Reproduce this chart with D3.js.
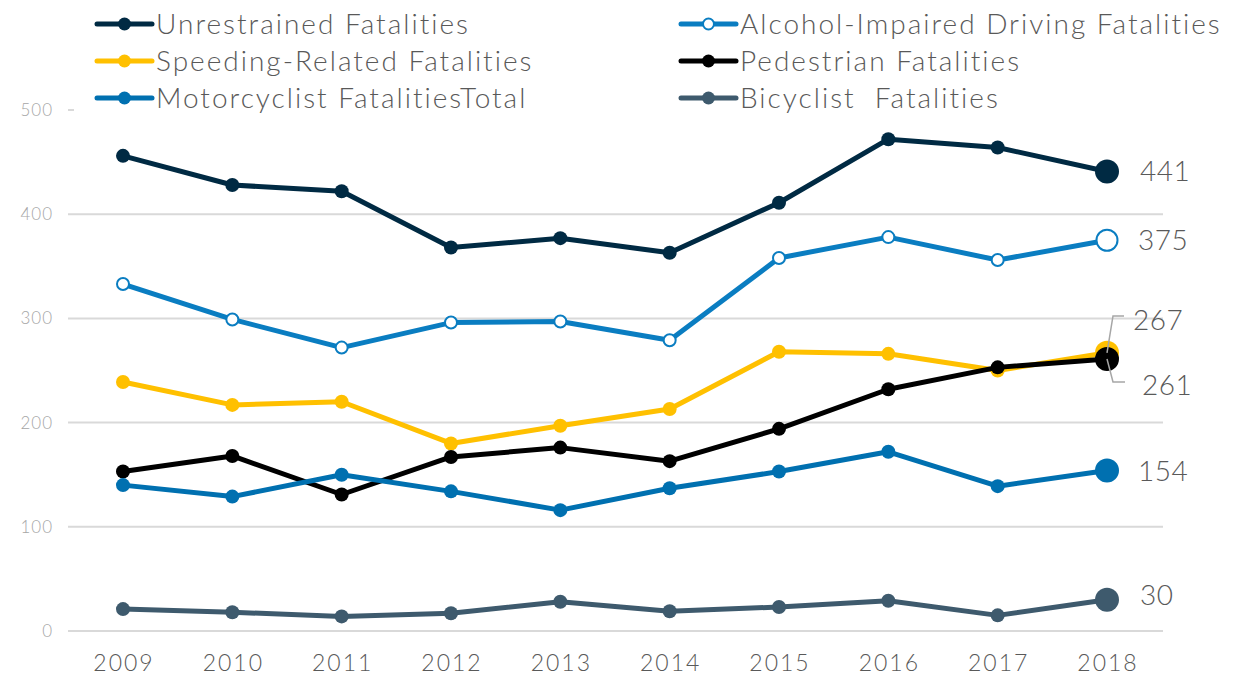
<!DOCTYPE html>
<html>
<head>
<meta charset="utf-8">
<script src="https://cdn.jsdelivr.net/npm/d3@7"></script>
<style>
  body { margin:0; background:#fff; }
  svg text { font-family: Lato, "Open Sans", sans-serif; font-weight:300; white-space:pre; }
</style>
</head>
<body>
<svg id="chart" width="1234" height="675"></svg>
<script>
var years = [2009, 2010, 2011, 2012, 2013, 2014, 2015, 2016, 2017, 2018];
var yTicks = [0, 100, 200, 300, 400, 500];

var unrestrained = [456, 428, 422, 368, 377, 363, 411, 472, 464, 441];
var alcohol      = [333, 299, 272, 296, 297, 279, 358, 378, 356, 375];
var speeding     = [239, 217, 220, 180, 197, 213, 268, 266, 250, 267];
var pedestrian   = [153, 168, 131, 167, 176, 163, 194, 232, 253, 261];
var motorcycle   = [140, 129, 150, 134, 116, 137, 153, 172, 139, 154];
var bicycle      = [21, 18, 14, 17, 28, 19, 23, 29, 15, 30];

var seriesNames = ["Unrestrained Fatalities", "Alcohol-Impaired Driving Fatalities",
  "Speeding-Related Fatalities", "Pedestrian Fatalities",
  "Motorcyclist FatalitiesTotal", "Bicyclist  Fatalities"];
var seriesColors = ["#002a43", "#0a7dc1", "#ffc000", "#000000", "#0070b0", "#3e5a6d"];
var seriesData = [unrestrained, alcohol, speeding, pedestrian, motorcycle, bicycle];
var hollow = [false, true, false, false, false, false];

var svg = d3.select("#chart");

var x = d3.scalePoint().domain(years).range([123, 1107]);
var y = d3.scaleLinear().domain([0, 500]).range([631, 110]);

/* gridlines */
svg.append("g").selectAll("line").data(yTicks).enter().append("line")
  .attr("x1", 68).attr("x2", 1163)
  .attr("y1", function(d) { return y(d); }).attr("y2", function(d) { return y(d); })
  .attr("stroke", "#d9d9d9").attr("stroke-width", 2);

/* y labels */
svg.append("g").selectAll("text").data(yTicks).enter().append("text")
  .attr("x", 53).attr("y", function(d) { return y(d) + 6; })
  .attr("text-anchor", "end").attr("font-size", 17).attr("fill", "#a6a6a6")
  .attr("letter-spacing", 1)
  .text(function(d) { return d; });

/* x labels */
svg.append("g").selectAll("text").data(years).enter().append("text")
  .attr("x", function(d) { return x(d) + 1; }).attr("y", 671)
  .attr("text-anchor", "middle").attr("font-size", 23).attr("fill", "#595959")
  .attr("letter-spacing", 2)
  .text(function(d) { return d; });

/* legend background hides the 500 gridline */
svg.append("rect").attr("x", 74).attr("y", 0).attr("width", 1160).attr("height", 118).attr("fill", "#fff");

var line = d3.line().x(function(d, i) { return x(years[i]); }).y(function(d) { return y(d); });

seriesData.forEach(function(vals, s) {
  var g = svg.append("g");
  g.append("path").datum(vals).attr("d", line)
    .attr("fill", "none").attr("stroke", seriesColors[s]).attr("stroke-width", 5)
    .attr("stroke-linejoin", "round");
  g.selectAll("circle").data(vals).enter().append("circle")
    .attr("cx", function(d, i) { return x(years[i]); })
    .attr("cy", function(d) { return y(d); })
    .attr("r", function(d, i) { return i == vals.length - 1 ? (hollow[s] ? 10.5 : 12) : (hollow[s] ? 6 : 7); })
    .attr("fill", hollow[s] ? "#fff" : seriesColors[s])
    .attr("stroke", hollow[s] ? seriesColors[s] : "none")
    .attr("stroke-width", 2);
});

/* end labels */
var endLabels = [
  {v: unrestrained[9], dx: 33, ly: y(unrestrained[9]) + 10},
  {v: alcohol[9], dx: 31, ly: y(alcohol[9]) + 10},
  {v: speeding[9], dx: 26, ly: 330},
  {v: pedestrian[9], dx: 35, ly: 395},
  {v: motorcycle[9], dx: 31, ly: y(motorcycle[9]) + 10},
  {v: bicycle[9], dx: 33, ly: y(bicycle[9]) + 5}
];
svg.append("g").selectAll("text").data(endLabels).enter().append("text")
  .attr("x", function(d) { return x(2018) + d.dx; })
  .attr("y", function(d) { return d.ly; })
  .attr("font-size", 28).attr("fill", "#595959").attr("letter-spacing", 0.5)
  .text(function(d) { return d.v; });

/* leader lines for the two crowded labels */
var x18 = x(2018);
svg.append("path")
  .attr("d", "M" + (x18 + 17) + ",316 L" + (x18 + 6) + ",316 L" + x18 + "," + y(speeding[9]))
  .attr("fill", "none").attr("stroke", "#a6a6a6").attr("stroke-width", 1.5);
svg.append("path")
  .attr("d", "M" + (x18 + 18) + ",382 L" + (x18 + 6) + ",382 L" + x18 + "," + y(pedestrian[9]))
  .attr("fill", "none").attr("stroke", "#a6a6a6").attr("stroke-width", 1.5);

/* legend */
var legendPos = [
  {lx: 97, ty: 24}, {lx: 681, ty: 24},
  {lx: 97, ty: 61}, {lx: 681, ty: 61},
  {lx: 97, ty: 98}, {lx: 681, ty: 98}
];
var leg = svg.append("g").selectAll("g").data(seriesNames).enter().append("g")
  .attr("transform", function(d, i) { return "translate(" + legendPos[i].lx + "," + legendPos[i].ty + ")"; });
leg.append("line").attr("x1", 0).attr("x2", 55).attr("y1", 0).attr("y2", 0)
  .attr("stroke", function(d, i) { return seriesColors[i]; }).attr("stroke-width", 5)
  .attr("stroke-linecap", "round");
leg.append("circle").attr("cx", 27.5).attr("cy", 0)
  .attr("r", function(d, i) { return hollow[i] ? 5.5 : 6.5; })
  .attr("fill", function(d, i) { return hollow[i] ? "#fff" : seriesColors[i]; })
  .attr("stroke", function(d, i) { return hollow[i] ? seriesColors[i] : "none"; })
  .attr("stroke-width", 2);
leg.append("text").attr("x", 59).attr("y", 10)
  .attr("font-size", 28).attr("fill", "#595959").attr("letter-spacing", 2)
  .text(function(d) { return d; });
</script>
</body>
</html>
